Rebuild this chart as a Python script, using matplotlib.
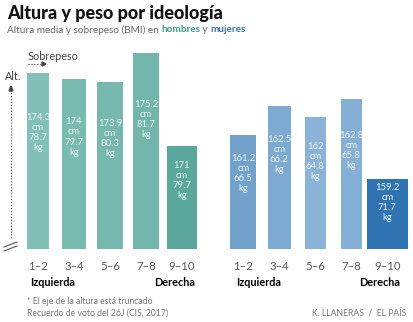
import matplotlib.pyplot as plt
import numpy as np

plt.rcParams["font.family"] = ["Lato", "DejaVu Sans"]

grupos = ["1–2", "3–4", "5–6", "7–8", "9–10"]

altura_h = [174.3, 174.0, 173.9, 175.2, 171.0]
peso_h = [78.7, 79.7, 80.3, 81.7, 79.7]
colores_h = ["#82c0b5", "#7abbb0", "#76b8ad", "#72b5aa", "#5aa89b"]

altura_m = [161.2, 162.5, 162.0, 162.8, 159.2]
peso_m = [66.5, 66.2, 64.8, 65.8, 71.7]
colores_m = ["#72a2cc", "#7eaad1", "#8ab3d7", "#85afd5", "#2f73b3"]

W, H = 414, 322
fig = plt.figure(figsize=(W / 100, H / 100), dpi=100)


def fx(px):
    return px / W


def fy(py):
    return 1 - py / H


px_cm = 22.15
top_px, bot_px = 50, 249
span_cm = (bot_px - top_px) / px_cm


def panel(left_px, altura, peso, colores, base_alt, base_bmi):
    ax = fig.add_axes([fx(left_px), fy(bot_px), 180 / W, (bot_px - top_px) / H])
    x = np.arange(len(grupos))
    bmi = np.array(peso) / (np.array(altura) / 100) ** 2
    ancho = (bmi - base_bmi) * 5.8 / 36
    ax.bar(x, np.array(altura) - base_alt, bottom=base_alt, width=ancho,
           color=colores, clip_on=False)
    for xi, a, p in zip(x, altura, peso):
        ya = base_alt + 0.66 * (a - base_alt)
        etiqueta = f"{a:g}\ncm\n{p:g}\nkg"
        ax.text(xi, ya, etiqueta, ha="center", va="center", color="#eaf3f3",
                fontsize=6.8, linespacing=1.15)
    ax.set_xlim(-0.5, 4.5)
    ax.set_ylim(base_alt, base_alt + span_cm)
    ax.set_xticks(x, grupos)
    ax.tick_params(axis="x", length=0, pad=9, labelsize=8.2, labelcolor="#555555")
    ax.set_yticks([])
    for s in ax.spines.values():
        s.set_visible(False)
    return ax


panel(20, altura_h, peso_h, colores_h, 166.34, 22.06)
panel(225.3, altura_m, peso_m, colores_m, 156.04, 21.14)

# titulo y subtitulo
fig.text(fx(7), fy(13), "Altura y peso por ideología", fontsize=13, weight="black",
         va="center", color="#111111")
sub = fig.text(fx(7), fy(30), "Altura media y sobrepeso (BMI) en ", fontsize=7.2,
               va="center", color="#666666")
fig.canvas.draw()
r = fig.canvas.get_renderer()
bb = sub.get_window_extent(r)
t2 = fig.text(bb.x1 / W, fy(30), "hombres", fontsize=7.2, va="center",
              weight="bold", color="#3f9d8e")
bb = t2.get_window_extent(r)
t3 = fig.text(bb.x1 / W, fy(30), " y ", fontsize=7.2, va="center", color="#666666")
bb = t3.get_window_extent(r)
fig.text(bb.x1 / W, fy(30), "mujeres", fontsize=7.2, va="center",
         weight="bold", color="#3a7cb8")

# anotaciones de ejes
fig.text(fx(28), fy(57), "Sobrepeso", fontsize=7.8, va="center", color="#444444")
fig.add_artist(plt.Line2D([fx(28), fx(42)], [fy(64), fy(64)], ls=":", lw=0.8,
                          color="#444444"))
fig.add_artist(plt.Polygon([[fx(42), fy(62)], [fx(46), fy(64)], [fx(42), fy(66)]],
                           color="#444444"))
fig.text(fx(13), fy(76), "Alt.", fontsize=7.8, va="center", ha="center", color="#444444")
fig.add_artist(plt.Line2D([fx(11), fx(11)], [fy(238), fy(91)], ls=":", lw=0.8,
                          color="#444444"))
fig.add_artist(plt.Polygon([[fx(9), fy(91)], [fx(11), fy(86)], [fx(13), fy(91)]],
                           color="#444444"))
for dy in (0, 4):
    fig.add_artist(plt.Line2D([fx(4), fx(17)], [fy(247 + dy), fy(242 + dy)], lw=0.8,
                              color="#555555"))

# extremos ideologicos
for xl, xr in ((30, 195), (236, 400)):
    fig.text(fx(xl), fy(283), "Izquierda", fontsize=7.8, weight="bold", va="center")
    fig.text(fx(xr), fy(283), "Derecha", fontsize=7.8, weight="bold", va="center",
             ha="right")

# notas
fig.text(fx(27), fy(302), "* El eje de la altura está truncado", fontsize=6.2,
         va="center", color="#777777")
fig.text(fx(27), fy(313), "Recuerdo de voto del 26J (CIS, 2017)", fontsize=6.2,
         va="center", color="#777777")
fig.text(fx(406), fy(313), "K. LLANERAS  /  EL PAÍS", fontsize=6.2, va="center",
         ha="right", color="#777777")

fig.savefig("out.png", dpi=100)
